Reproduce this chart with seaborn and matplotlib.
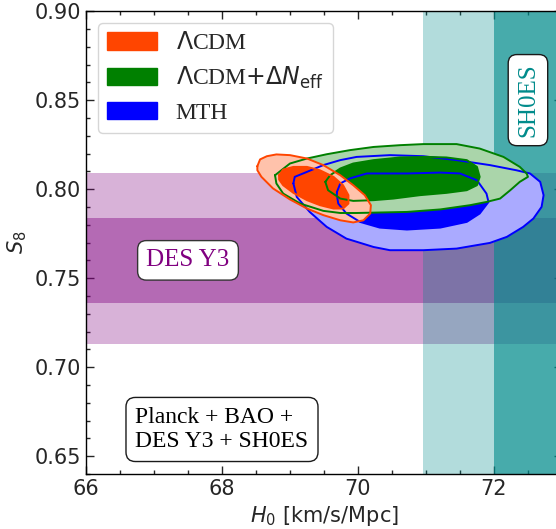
import numpy as np
import matplotlib
matplotlib.use('Agg')
import matplotlib.pyplot as plt
from matplotlib.patches import Patch
import seaborn as sns

sns.set_style('ticks')
plt.rcParams['font.family'] = ['DejaVu Sans']
plt.rcParams['mathtext.fontset'] = 'dejavusans'

# Contour outlines: (H0, S8)
lcdm_95_h0 = [68.52, 68.56, 68.66, 68.80, 69.00, 69.25, 69.49, 69.74, 69.93, 70.10,
              70.19, 70.18, 70.08, 69.93, 69.74, 69.49, 69.25, 69.00, 68.75, 68.58, 68.52]
lcdm_95_s8 = [0.8129, 0.8167, 0.8185, 0.8195, 0.8191, 0.8172, 0.8135, 0.8078, 0.8022, 0.7966,
              0.7910, 0.7863, 0.7825, 0.7813, 0.7825, 0.7854, 0.7891, 0.7942, 0.8004, 0.8069, 0.8106]
lcdm_68_h0 = [68.84, 68.90, 69.05, 69.25, 69.44, 69.64, 69.78, 69.86, 69.86, 69.78,
              69.64, 69.44, 69.25, 69.05, 68.90, 68.84]
lcdm_68_s8 = [0.8078, 0.8110, 0.8125, 0.8125, 0.8106, 0.8069, 0.8022, 0.7966, 0.7919, 0.7891,
              0.7891, 0.7910, 0.7938, 0.7979, 0.8022, 0.8054]

neff_95_h0 = [68.78, 69.00, 69.25, 69.54, 69.88, 70.23, 70.62, 70.96, 71.45, 71.79,
              72.14, 72.38, 72.48, 72.50, 72.38, 72.24, 72.09, 71.89, 71.65, 71.21,
              70.72, 70.22, 69.98, 69.74, 69.49, 69.15, 68.90, 68.80]
neff_95_s8 = [0.8078, 0.8144, 0.8172, 0.8196, 0.8219, 0.8237, 0.8247, 0.8253, 0.8253, 0.8228,
              0.8181, 0.8125, 0.8088, 0.8069, 0.8041, 0.7994, 0.7947, 0.7928, 0.7910, 0.7886,
              0.7872, 0.7868, 0.7866, 0.7866, 0.7878, 0.7919, 0.7975, 0.8032]
neff_68_h0 = [69.52, 69.59, 69.74, 69.93, 70.23, 70.62, 71.01, 71.30, 71.60, 71.75,
              71.79, 71.75, 71.60, 71.30, 70.91, 70.52, 70.23, 69.93, 69.74, 69.56]
neff_68_s8 = [0.8041, 0.8078, 0.8116, 0.8144, 0.8163, 0.8178, 0.8181, 0.8178, 0.8163, 0.8125,
              0.8069, 0.8022, 0.7994, 0.7979, 0.7966, 0.7947, 0.7938, 0.7934, 0.7947, 0.7994]

mth_95_h0 = [69.05, 69.07, 69.25, 69.49, 69.74, 69.98, 70.47, 70.96, 71.45, 71.94,
             72.33, 72.53, 72.68, 72.73, 72.70, 72.58, 72.43, 72.19, 71.94, 71.45,
             70.96, 70.47, 70.23, 69.83, 69.54, 69.29, 69.10]
mth_95_s8 = [0.8032, 0.8069, 0.8097, 0.8135, 0.8163, 0.8181, 0.8191, 0.8185, 0.8163, 0.8135,
             0.8106, 0.8088, 0.8041, 0.7966, 0.7900, 0.7835, 0.7788, 0.7732, 0.7698, 0.7666,
             0.7657, 0.7657, 0.7675, 0.7722, 0.7788, 0.7872, 0.7956]
mth_68_h0 = [69.69, 69.74, 69.88, 70.13, 70.72, 71.21, 71.50, 71.75, 71.89, 71.92,
             71.79, 71.60, 71.21, 70.72, 70.32, 70.03, 69.83, 69.71, 69.69]
mth_68_s8 = [0.7984, 0.8032, 0.8060, 0.8088, 0.8088, 0.8093, 0.8088, 0.8050, 0.7975, 0.7928,
             0.7863, 0.7816, 0.7784, 0.7773, 0.7784, 0.7816, 0.7863, 0.7919, 0.7966]

labels = [r'$\Lambda$CDM', r'$\Lambda$CDM$+\Delta N_{\rm eff}$', 'MTH']
dark_colors = ['#FF4500', '#008000', '#0000FF']
light_colors = ['#FFC2AB', '#AAD5AA', '#AAAAFF']

# Bands (1 and 2 sigma)
des_2sig = [0.713, 0.809]
des_1sig = [0.736, 0.784]
shoes_2sig = [70.96, 75.12]
shoes_1sig = [72.00, 74.08]

fig = plt.figure(figsize=(5.56, 5.29), dpi=100)
ax = fig.add_axes([0.1547, 0.104, 0.856, 0.875])

ax.axhspan(des_2sig[0], des_2sig[1], color='purple', alpha=0.3, lw=0)
ax.axhspan(des_1sig[0], des_1sig[1], color='purple', alpha=0.4, lw=0)
ax.axvspan(shoes_2sig[0], shoes_2sig[1], color='darkcyan', alpha=0.3, lw=0)
ax.axvspan(shoes_1sig[0], shoes_1sig[1], color='darkcyan', alpha=0.6, lw=0)

# bottom to top: MTH, LCDM+Neff, LCDM
models = [
    (mth_95_h0, mth_95_s8, mth_68_h0, mth_68_s8, 2),
    (neff_95_h0, neff_95_s8, neff_68_h0, neff_68_s8, 1),
    (lcdm_95_h0, lcdm_95_s8, lcdm_68_h0, lcdm_68_s8, 0),
]
for x95, y95, x68, y68, i in models:
    ax.fill(x95, y95, color=light_colors[i], lw=0, zorder=3)
    ax.fill(x68, y68, color=dark_colors[i], lw=0, zorder=3)
for x95, y95, x68, y68, i in models:
    for xs, ys in [(x95, y95), (x68, y68)]:
        xs = np.append(xs, xs[0])
        ys = np.append(ys, ys[0])
        sns.lineplot(x=xs, y=ys, sort=False, estimator=None, color=dark_colors[i],
                     lw=1.4, ax=ax, zorder=4)

serif = 'Liberation Serif'
ax.text(67.5, 0.76, 'DES Y3', color='purple', fontsize=18, family=serif,
        ha='center', va='center', zorder=5,
        bbox=dict(boxstyle='round,pad=0.35', fc='white', ec='0.2'))
ax.text(72.5, 0.85, 'SH0ES', color='darkcyan', fontsize=18, family=serif, rotation=90,
        ha='center', va='center', zorder=5,
        bbox=dict(boxstyle='round,pad=0.35', fc='white', ec='0.1'))
ax.text(68.0, 0.665, 'Planck + BAO +\nDES Y3 + SH0ES', color='black', fontsize=17,
        family=serif, ha='center', va='center', multialignment='left', zorder=5,
        linespacing=1.2,
        bbox=dict(boxstyle='round,pad=0.4', fc='white', ec='0.1'))

handles = [Patch(color=c, label=l) for c, l in zip(dark_colors, labels)]
ax.legend(handles=handles, loc='upper left', prop={'family': serif, 'size': 17},
          handlelength=2.1, handleheight=0.75, labelspacing=0.45)

ax.set_xlim(66, 73)
ax.set_ylim(0.64, 0.90)
ax.set_xticks([66, 68, 70, 72])
ax.set_xticks(np.arange(66, 73.01, 0.5), minor=True)
ax.set_yticks([0.65, 0.70, 0.75, 0.80, 0.85, 0.90])
ax.set_yticks(np.arange(0.64, 0.9001, 0.01), minor=True)
ax.set_yticklabels(['0.65', '0.70', '0.75', '0.80', '0.85', '0.90'])
ax.tick_params(which='both', direction='in', top=True, right=True, labelsize=15)
ax.tick_params(which='major', length=6, width=1)
ax.tick_params(which='minor', length=3, width=1)
for s in ax.spines.values():
    s.set_linewidth(1)
    s.set_color('black')
    s.set_zorder(6)
ax.set_xlabel(r'$H_0$ [km/s/Mpc]', fontsize=15)
ax.set_ylabel(r'$S_8$', fontsize=15)

fig.savefig('out.png', dpi=100)
